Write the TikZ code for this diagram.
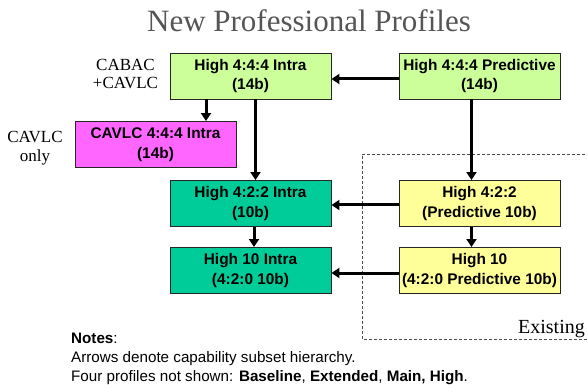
\documentclass[tikz,border=0pt]{standalone}
\usepackage{fontspec}
\setmainfont{Liberation Serif}
\newfontfamily\arialfont{Liberation Sans}
\usetikzlibrary{arrows.meta}
\definecolor{lgreen}{HTML}{CCFF99}
\definecolor{magbox}{HTML}{FF66FF}
\definecolor{tealbox}{HTML}{00CC99}
\definecolor{lyellow}{HTML}{FFFF99}
\definecolor{titlegray}{HTML}{555555}
\begin{document}
\begin{tikzpicture}[x=1pt,y=-1pt,
  prof/.style={draw=black!85,line width=0.9pt,minimum width=161pt,minimum height=46pt,inner sep=0pt,align=center,font=\arialfont\bfseries\fontsize{15.4}{19.5}\selectfont},
  arr/.style={line width=3pt,-{Triangle[length=8pt,width=10pt]}},
  lbl/.style={font=\fontsize{17}{18.5}\selectfont,align=center},
  note/.style={anchor=base west,inner sep=0pt,font=\arialfont\fontsize{15.2}{17}\selectfont}]
\useasboundingbox (0,0) rectangle (587,385);
\node[font=\fontsize{31}{34}\selectfont,text=titlegray,anchor=base,inner sep=0pt] (title) at (309,31.7) {New Professional Profiles};
% dashed region
\draw[densely dashed,line width=0.6pt,black!70] (590,154) -- (362,154) -- (362,339) -- (590,339);
\node[font=\fontsize{20}{23}\selectfont,anchor=base east,inner sep=0pt] (exist) at (585,333) {Existing};
% boxes
\node[prof,fill=lgreen] (i444) at (250.5,76) {High 4:4:4 Intra\\(14b)};
\node[prof,fill=lgreen] (p444) at (479.5,76) {High 4:4:4 Predictive\\(14b)};
\node[prof,fill=magbox] (cav) at (155.5,144.5) {CAVLC 4:4:4 Intra\\(14b)};
\node[prof,fill=tealbox] (i422) at (250.5,203.5) {High 4:2:2 Intra\\(10b)};
\node[prof,fill=lyellow] (p422) at (479.5,203.5) {High 4:2:2\\(Predictive 10b)};
\node[prof,fill=tealbox] (i10) at (250.5,270.5) {High 10 Intra\\(4:2:0 10b)};
\node[prof,fill=lyellow] (p10) at (479.5,270.5) {High 10\\(4:2:0 Predictive 10b)};
% side labels
\node[lbl] (cabac) at (125.5,74) {CABAC\\+CAVLC};
\node[lbl] (cavonly) at (35,148) {CAVLC\\only};
% arrows
\draw[arr] (p444.west|-0,79) -- (i444.east|-0,79);
\draw[arr] (i444.south-|206,0) -- (cav.north-|206,0);
\draw[arr] (i444.south-|255.5,0) -- (i422.north-|255.5,0);
\draw[arr] (p444.south-|471.5,0) -- (p422.north-|471.5,0);
\draw[arr] (p422.west|-0,205) -- (i422.east|-0,205);
\draw[arr] (i422.south-|254,0) -- (i10.north-|254,0);
\draw[arr] (p422.south-|471.5,0) -- (p10.north-|471.5,0);
\draw[arr] (p10.west|-0,273) -- (i10.east|-0,273);
% notes
\node[note] (n1) at (71,343.3) {\textbf{Notes}:};
\node[note] (n2) at (71,362.5) {Arrows denote capability subset hierarchy.};
\node[note] (n3) at (71,381) {Four profiles not shown: \textbf{Baseline}, \textbf{Extended}, \textbf{Main, High}.};
\end{tikzpicture}
\end{document}
